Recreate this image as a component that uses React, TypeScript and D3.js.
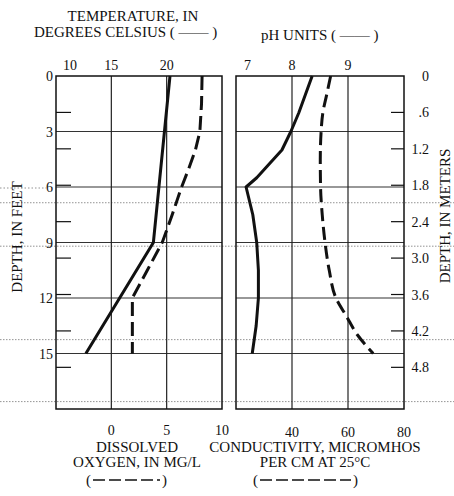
import React from "react";
import * as d3 from "d3";

// ---- data (depth in feet) ----
const tempDepth = [0, 9, 15];
const tempValue = [20.3, 18.8, 12.7];

const doDepth = [0, 1.5, 3, 4, 5, 6, 7.5, 9, 10.5, 12, 13.5, 15];
const doValue = [8.2, 8.15, 8.0, 7.6, 7.0, 6.35, 5.5, 4.6, 3.25, 1.9, 1.9, 1.9];

const phDepth = [0, 1, 2, 3, 4, 5, 5.5, 6, 7.5, 9, 10.5, 12, 13.5, 15];
const phValue = [8.36, 8.24, 8.12, 7.98, 7.82, 7.52, 7.37, 7.18, 7.3, 7.37, 7.4, 7.4, 7.36, 7.29];

const condDepth = [0, 1, 2, 3, 4.5, 6, 7.5, 9, 10.5, 12, 13, 14, 15];
const condValue = [53.8, 52.4, 51, 50.4, 50.1, 50.2, 50.8, 51.8, 53.3, 55.7, 59.5, 63.4, 69];

// ---- ticks ----
const feetTicks = [0, 3, 6, 9, 12, 15];
const feetGrid = [3, 6, 9, 12, 15];
const meterTicks = [0, 0.6, 1.2, 1.8, 2.4, 3.0, 3.6, 4.2, 4.8];
const meterLabels = ["0", ".6", "1.2", "1.8", "2.4", "3.0", "3.6", "4.2", "4.8"];
const tempTicks = [10, 15, 20];
const phTicks = [7, 8, 9];
const doTicks = [0, 5, 10];
const condTicks = [40, 60, 80];
const scanDepths = [6.85, 9.2, 14.25, 17.6];

const FONT = "Liberation Serif, Times New Roman, DejaVu Serif, serif";
const INK = "#111";
const T = { fontFamily: FONT, fontSize: 14, fill: INK } as React.CSSProperties;
const H = { fontFamily: FONT, fontSize: 15, fill: INK } as React.CSSProperties;

export default function App() {
  const y = d3.scaleLinear().domain([0, 18]).range([76, 409]);
  const xTemp = d3.scaleLinear().domain([10, 25]).range([56, 222]);
  const xDO = d3.scaleLinear().domain([-5, 10]).range([56, 222]);
  const xPH = d3.scaleLinear().domain([7, 10]).range([236, 404]);
  const xCond = d3.scaleLinear().domain([20, 80]).range([236, 404]);
  const m2ft = (m: number) => m / 0.3048;

  const mk = (xs: d3.ScaleLinear<number, number>, ds: number[], vs: number[], curve: d3.CurveFactory) =>
    d3
      .line<number>()
      .x((_, i) => xs(vs[i]))
      .y((d) => y(d))
      .curve(curve)(ds) || "";

  const tempPath = mk(xTemp, tempDepth, tempValue, d3.curveLinear);
  const doPath = mk(xDO, doDepth, doValue, d3.curveLinear);
  const phPath = mk(xPH, phDepth, phValue, d3.curveLinear);
  const condPath = mk(xCond, condDepth, condValue, d3.curveMonotoneY);

  const panels = [
    { x0: 56, x1: 222, vlines: [xTemp(15), xTemp(20)] },
    { x0: 236, x1: 404, vlines: [xPH(8), xPH(9)] },
  ];
  const y0 = y(0);
  const y1 = y(18);

  return (
    <svg width={454} height={496} style={{ position: "absolute", left: 0, top: 0, background: "#fff" }}>
      <rect x={0} y={0} width={454} height={496} fill="#fff" />
      {scanDepths.map((d) => (
        <line key={"s" + d} x1={0} x2={454} y1={y(d)} y2={y(d)} stroke="#777" strokeWidth={0.8} strokeDasharray="1.5 1.5" />
      ))}
      <line x1={0} x2={46} y1={y(6) + 1} y2={y(6) + 1} stroke="#777" strokeWidth={0.8} strokeDasharray="1.5 2" />

      {panels.map((p, i) => (
        <g key={"p" + i}>
          {feetGrid.map((f) => (
            <line key={f} x1={p.x0} x2={p.x1} y1={y(f)} y2={y(f)} stroke="#333" strokeWidth={1.1} />
          ))}
          {p.vlines.map((v) => (
            <line key={v} x1={v} x2={v} y1={y0} y2={y1} stroke="#222" strokeWidth={1.2} />
          ))}
          <rect x={p.x0} y={y0} width={p.x1 - p.x0} height={y1 - y0} fill="none" stroke={INK} strokeWidth={1.5} />
        </g>
      ))}

      {meterTicks.slice(1).map((m) => (
        <g key={"mt" + m}>
          <line x1={56} x2={71} y1={y(m2ft(m))} y2={y(m2ft(m))} stroke={INK} strokeWidth={1.2} />
          <line x1={391} x2={404} y1={y(m2ft(m))} y2={y(m2ft(m))} stroke={INK} strokeWidth={1.2} />
        </g>
      ))}

      <path d={tempPath} fill="none" stroke={INK} strokeWidth={3} />
      <path d={doPath} fill="none" stroke={INK} strokeWidth={3} strokeDasharray="14 6" />
      <path d={phPath} fill="none" stroke={INK} strokeWidth={3} strokeLinejoin="round" />
      <path d={condPath} fill="none" stroke={INK} strokeWidth={3} strokeDasharray="13 6" />

      {feetTicks.map((f) => (
        <text key={"fl" + f} x={53} y={y(f) + 5} textAnchor="end" style={T}>
          {f}
        </text>
      ))}
      {meterTicks.map((m, i) => (
        <text key={"ml" + m} x={429} y={y(m2ft(m)) + 5} textAnchor="end" style={T}>
          {meterLabels[i]}
        </text>
      ))}

      {tempTicks.map((t, i) => (
        <text key={"tt" + t} x={i === 0 ? xTemp(t) + 7 : xTemp(t)} y={70} textAnchor={i === 0 ? "start" : "middle"} style={T}>
          {t}
        </text>
      ))}
      {phTicks.map((t, i) => (
        <text key={"pt" + t} x={i === 0 ? xPH(t) + 8 : xPH(t)} y={70} textAnchor={i === 0 ? "start" : "middle"} style={T}>
          {t}
        </text>
      ))}

      {doTicks.map((t) => (
        <text key={"dt" + t} x={xDO(t)} y={435} textAnchor="middle" style={T}>
          {t}
        </text>
      ))}
      {condTicks.map((t) => (
        <text key={"ct" + t} x={xCond(t)} y={437} textAnchor="middle" style={T}>
          {t}
        </text>
      ))}

      <text x={133} y={21} textAnchor="middle" style={H}>TEMPERATURE, IN</text>
      <text x={34} y={37} style={H}>DEGREES CELSIUS ( —— )</text>
      <text x={261} y={40} style={H}>pH UNITS ( —— )</text>

      <text x={137} y={452} textAnchor="middle" style={H}>DISSOLVED</text>
      <text x={137} y={467} textAnchor="middle" style={H}>OXYGEN, IN MG/L</text>
      <text x={86} y={485} style={H}>(</text>
      <line x1={93} x2={160} y1={480} y2={480} stroke={INK} strokeWidth={1.3} strokeDasharray="12 4" />
      <text x={162} y={485} style={H}>)</text>

      <text x={315} y={452} textAnchor="middle" style={H}>CONDUCTIVITY, MICROMHOS</text>
      <text x={315} y={467} textAnchor="middle" style={H}>PER CM AT 25°C</text>
      <text x={253} y={485} style={H}>(</text>
      <line x1={260} x2={351} y1={480} y2={480} stroke={INK} strokeWidth={1.3} strokeDasharray="12 4" />
      <text x={353} y={485} style={H}>)</text>

      <text transform="translate(22,237) rotate(-90)" textAnchor="middle" style={H}>DEPTH, IN FEET</text>
      <text transform="translate(450,216) rotate(-90)" textAnchor="middle" style={H}>DEPTH, IN METERS</text>
    </svg>
  );
}
